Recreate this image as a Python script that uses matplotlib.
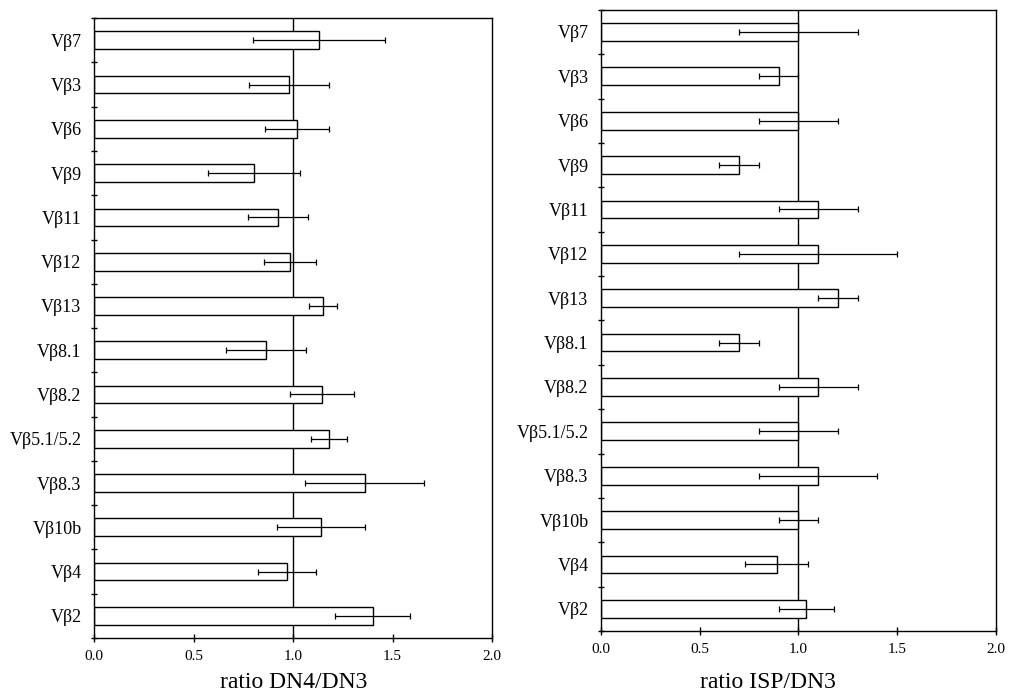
import matplotlib.pyplot as plt
import numpy as np

plt.rcParams["font.family"] = ["Liberation Serif", "DejaVu Serif"]

# categories listed top to bottom
categories = ["Vβ7", "Vβ3", "Vβ6", "Vβ9", "Vβ11", "Vβ12", "Vβ13", "Vβ8.1",
              "Vβ8.2", "Vβ5.1/5.2", "Vβ8.3", "Vβ10b", "Vβ4", "Vβ2"]

dn4_ratio = [1.13, 0.98, 1.02, 0.805, 0.925, 0.985, 1.15, 0.865,
             1.145, 1.18, 1.36, 1.14, 0.97, 1.40]
dn4_err = [0.33, 0.20, 0.16, 0.23, 0.15, 0.13, 0.07, 0.20,
           0.16, 0.09, 0.30, 0.22, 0.145, 0.19]

isp_ratio = [1.00, 0.90, 1.00, 0.70, 1.10, 1.10, 1.20, 0.70,
             1.10, 1.00, 1.10, 1.00, 0.89, 1.04]
isp_err = [0.30, 0.10, 0.20, 0.10, 0.20, 0.40, 0.10, 0.10,
           0.20, 0.20, 0.30, 0.10, 0.16, 0.14]

x_ticks = [0.0, 0.5, 1.0, 1.5, 2.0]
x_ticklabels = ["0.0", "0.5", "1.0", "1.5", "2.0"]


def draw_panel(ax, values, errors):
    n = len(categories)
    ypos = n - 0.5 - np.arange(n)
    ax.barh(ypos, values, height=0.4, color="white", edgecolor="black",
            linewidth=1.0, zorder=2)
    ax.errorbar(values, ypos, xerr=errors, fmt="none", ecolor="black",
                elinewidth=0.9, capsize=2.5, capthick=0.9, zorder=3)
    ax.axvline(1.0, color="black", linewidth=1.0, zorder=1)
    ax.set_xlim(0, 2)
    ax.set_ylim(0, n)
    ax.set_yticks(ypos)
    ax.set_yticklabels(categories, fontsize=13)
    ax.set_yticks(np.arange(n + 1), minor=True)
    ax.tick_params(axis="y", which="major", length=0, pad=9)
    ax.tick_params(axis="y", which="minor", direction="inout", length=5,
                   width=1.0)
    ax.set_xticks(x_ticks)
    ax.set_xticklabels(x_ticklabels, fontsize=11)
    ax.tick_params(axis="x", direction="inout", length=6, width=1.0, pad=6)
    for spine in ax.spines.values():
        spine.set_linewidth(1.0)


fig = plt.figure(figsize=(10.09, 6.98), dpi=100)
ax1 = fig.add_axes([0.0932, 0.086, 0.3945, 0.888])
ax2 = fig.add_axes([0.5956, 0.096, 0.3915, 0.890])

draw_panel(ax1, dn4_ratio, dn4_err)
draw_panel(ax2, isp_ratio, isp_err)

fig.text(294 / 1009, 1 - 683 / 698, "ratio DN4/DN3", fontsize=17,
         ha="center", va="center")
fig.text(768 / 1009, 1 - 683 / 698, "ratio ISP/DN3", fontsize=17,
         ha="center", va="center")

fig.savefig("out.png", dpi=100)
